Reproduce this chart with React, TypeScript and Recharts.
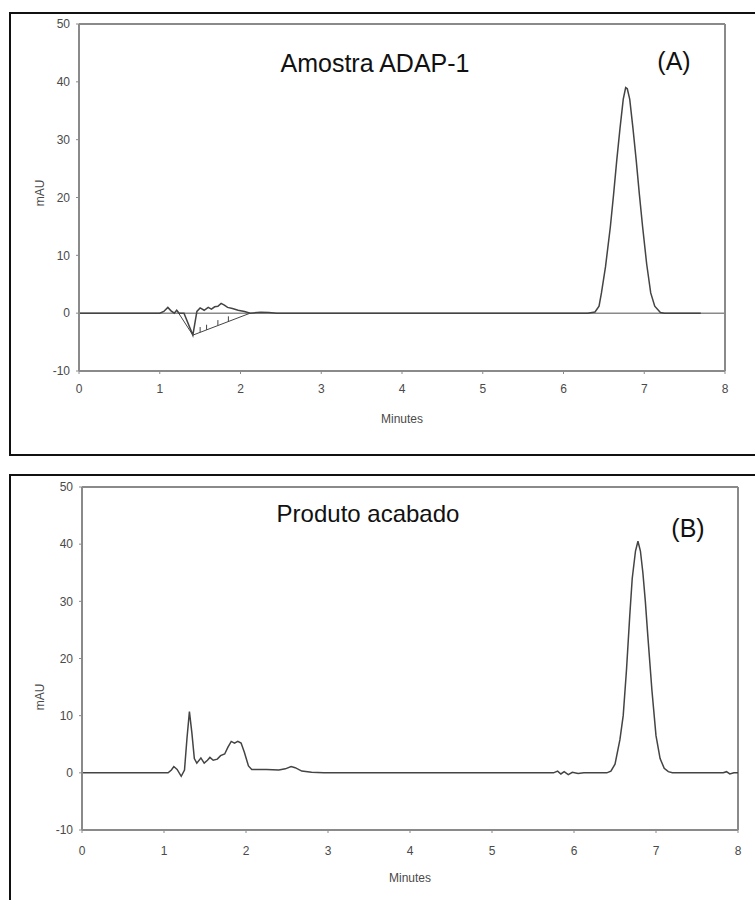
import React from 'react';
import { LineChart, Line, XAxis, YAxis, ReferenceLine } from 'recharts';

// minutes on the x axis, mAU on the y axis
const xTicks = [0, 1, 2, 3, 4, 5, 6, 7, 8];
const yTicks = [-10, 0, 10, 20, 30, 40, 50];

// (A) Amostra ADAP-1 — [minutes, mAU]
const traceA: [number, number][] = [
  [0, 0], [1.0, 0], [1.05, 0.3], [1.1, 1.0], [1.14, 0.4], [1.18, 0], [1.21, 0.5], [1.24, 0],
  [1.3, 0], [1.41, -3.8], [1.46, 0.3], [1.5, 0.9], [1.55, 0.5], [1.6, 1.0], [1.64, 0.7],
  [1.68, 1.1], [1.72, 1.2], [1.76, 1.7], [1.8, 1.4], [1.84, 1.0], [1.9, 0.8], [1.97, 0.5],
  [2.05, 0.3], [2.12, 0], [2.25, 0.15], [2.35, 0.1], [2.45, 0],
  [6.3, 0], [6.39, 0.2], [6.44, 1.2], [6.47, 3.5], [6.52, 8], [6.58, 14.9], [6.62, 20.5],
  [6.66, 26.5], [6.7, 32], [6.74, 37], [6.77, 39], [6.79, 38.8], [6.82, 37], [6.86, 32],
  [6.9, 26.5], [6.94, 20.5], [6.98, 14.9], [7.03, 8.5], [7.08, 3.5], [7.13, 1.2], [7.2, 0.1],
  [7.25, 0], [7.7, 0],
];

// integration baseline drawn under the negative dip in (A)
const baselineA: [number, number][] = [[1.22, 0.3], [1.41, -3.8], [2.12, 0]];

// little hatch marks from the baseline, null splits them apart
const hatchA: [number, number | null][] = [
  [1.5, -3.3], [1.5001, -2.4], [1.5002, null],
  [1.58, -2.9], [1.5801, -2.0], [1.5802, null],
  [1.72, -2.1], [1.7201, -1.2], [1.7202, null],
  [1.85, -1.45], [1.8501, -0.55],
];

// (B) Produto acabado — [minutes, mAU]
const traceB: [number, number][] = [
  [0, 0], [1.05, 0], [1.09, 0.5], [1.12, 1.1], [1.16, 0.6], [1.21, -0.6], [1.25, 0.5],
  [1.28, 6], [1.31, 10.7], [1.34, 7], [1.37, 2.5], [1.4, 1.7], [1.45, 2.6], [1.49, 1.7],
  [1.53, 2.2], [1.56, 2.7], [1.6, 2.2], [1.65, 2.4], [1.69, 3.0], [1.74, 3.3], [1.78, 4.5],
  [1.82, 5.5], [1.86, 5.2], [1.9, 5.5], [1.94, 5.2], [1.98, 3.6], [2.03, 1.2], [2.07, 0.6],
  [2.25, 0.6], [2.4, 0.5], [2.48, 0.7], [2.55, 1.1], [2.6, 0.9], [2.68, 0.3], [2.8, 0.1],
  [2.95, 0], [5.75, 0], [5.8, 0.3], [5.84, -0.2], [5.88, 0.2], [5.93, -0.3], [5.98, 0.1],
  [6.05, -0.1], [6.12, 0], [6.4, 0], [6.45, 0.3], [6.5, 1.5], [6.56, 5.8], [6.6, 10],
  [6.64, 18], [6.68, 27.5], [6.71, 34], [6.75, 38.8], [6.78, 40.5], [6.81, 38.8], [6.84, 35],
  [6.87, 30], [6.9, 24], [6.95, 14.5], [7.0, 6.5], [7.05, 2.5], [7.1, 0.8], [7.15, 0.2],
  [7.2, 0], [7.82, 0], [7.86, 0.2], [7.9, -0.2], [7.95, 0], [8, 0],
];

const rows = (pts: [number, number | null][]) => pts.map(([t, v]) => ({ t, v }));

const axisColor = '#8a8a8a';
const inkColor = '#444';
const fontFamily = 'Arial, Liberation Sans, sans-serif';
const tickFont = { fontSize: 12, fill: '#4a4a4a', fontFamily };

interface PanelProps {
  top: number;
  height: number;
  margin: { top: number; right: number; bottom: number; left: number };
  yWidth: number;
  tickGap: number;
  zeroLine?: boolean;
  children: React.ReactNode;
}

function Chromatogram({ top, height, margin, yWidth, tickGap, zeroLine, children }: PanelProps) {
  return (
    <div style={{ position: 'absolute', left: 0, top }}>
      <LineChart width={755} height={height} margin={margin}>
        <XAxis
          type="number"
          dataKey="t"
          domain={[0, 8]}
          ticks={xTicks}
          allowDataOverflow
          stroke={axisColor}
          axisLine={{ stroke: axisColor, strokeWidth: 2 }}
          tickSize={3}
          tickMargin={tickGap}
          tick={tickFont}
          height={52}
          label={{ value: 'Minutes', position: 'insideBottom', offset: 0, style: tickFont }}
        />
        <YAxis
          type="number"
          domain={[-10, 50]}
          ticks={yTicks}
          allowDataOverflow
          stroke={axisColor}
          axisLine={{ stroke: axisColor, strokeWidth: 2 }}
          tickSize={3}
          tickMargin={6}
          tick={tickFont}
          width={yWidth}
        />
        <ReferenceLine y={50} stroke={axisColor} strokeWidth={2} />
        <ReferenceLine x={8} stroke={axisColor} strokeWidth={2} />
        {zeroLine && <ReferenceLine y={0} stroke={axisColor} strokeWidth={1.5} />}
        {children}
      </LineChart>
    </div>
  );
}

export default function App() {
  const titleFont = { fontFamily, fill: '#111' };
  return (
    <div style={{ position: 'absolute', left: 0, top: 0, width: 755, height: 900, overflow: 'hidden', background: '#fff' }}>
      <div style={{ position: 'absolute', left: 9, top: 12, width: 760, height: 440, borderLeft: '2px solid #111', borderTop: '2px solid #111', borderBottom: '2px solid #111' }} />
      <div style={{ position: 'absolute', left: 9, top: 474, width: 760, height: 440, borderLeft: '2px solid #111', borderTop: '2px solid #111' }} />

      <Chromatogram top={0} height={455} margin={{ top: 24, right: 30, bottom: 32, left: 0 }} yWidth={79} tickGap={10} zeroLine>
        <Line data={rows(baselineA)} dataKey="v" type="linear" stroke={inkColor} strokeWidth={1} dot={false} isAnimationActive={false} />
        <Line data={rows(hatchA)} dataKey="v" type="linear" stroke={inkColor} strokeWidth={1} dot={false} connectNulls={false} isAnimationActive={false} />
        <Line data={rows(traceA)} dataKey="v" type="linear" stroke={inkColor} strokeWidth={1.5} dot={false} isAnimationActive={false} />
      </Chromatogram>

      <Chromatogram top={475} height={425} margin={{ top: 12, right: 17, bottom: 18, left: 0 }} yWidth={82} tickGap={13}>
        <Line data={rows(traceB)} dataKey="v" type="linear" stroke={inkColor} strokeWidth={1.5} dot={false} isAnimationActive={false} />
      </Chromatogram>

      <svg width={755} height={900} style={{ position: 'absolute', left: 0, top: 0, pointerEvents: 'none' }}>
        <text x={375} y={72} textAnchor="middle" fontSize={25} style={titleFont}>Amostra ADAP-1</text>
        <text x={674} y={70} textAnchor="middle" fontSize={25} style={titleFont}>(A)</text>
        <text x={368} y={522} textAnchor="middle" fontSize={24} style={titleFont}>Produto acabado</text>
        <text x={688} y={537} textAnchor="middle" fontSize={25} style={titleFont}>(B)</text>
        <text x={44} y={193} textAnchor="middle" fontSize={12} fill="#4a4a4a" fontFamily={fontFamily} transform="rotate(-90 44 193)">mAU</text>
        <text x={44} y={697} textAnchor="middle" fontSize={12} fill="#4a4a4a" fontFamily={fontFamily} transform="rotate(-90 44 697)">mAU</text>
      </svg>
    </div>
  );
}
